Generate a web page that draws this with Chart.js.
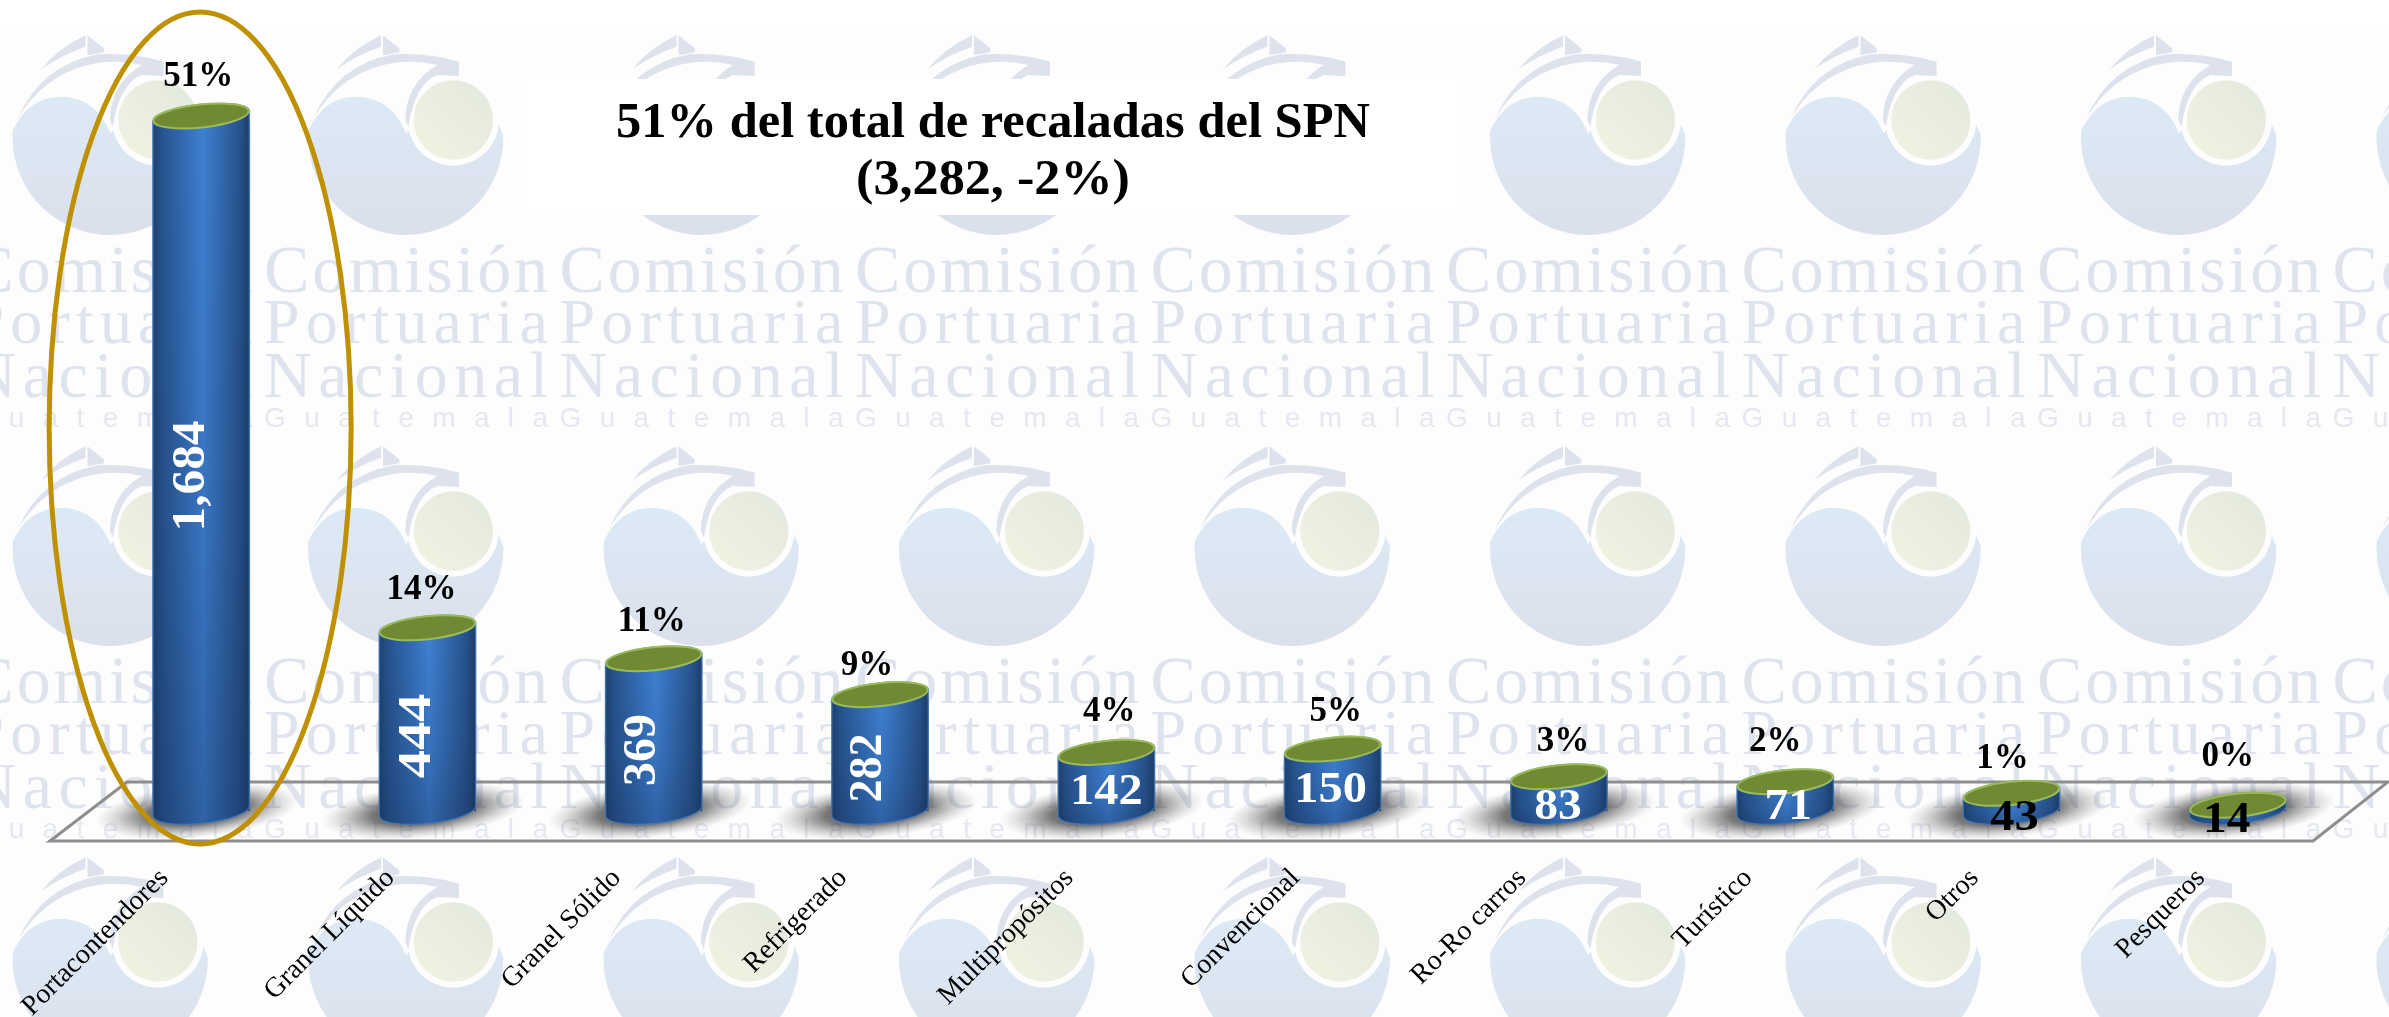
<!DOCTYPE html>
<html lang="es">
<head>
<meta charset="utf-8">
<title>Recaladas por tipo de buque</title>
<style>
html,body{margin:0;padding:0;background:#fff;width:2389px;height:1017px;overflow:hidden}
canvas{display:block;position:absolute;left:0;top:0}
</style>
<script src="https://cdn.jsdelivr.net/npm/chart.js@4/dist/chart.umd.min.js"></script>
</head>
<body>
<canvas id="c" width="2389" height="1017"></canvas>
<script>
// ---- data ----
const categories = ['Portacontendores','Granel Líquido','Granel Sólido','Refrigerado','Multipropósitos','Convencional','Ro-Ro carros','Turístico','Otros','Pesqueros'];
const values = [1684,444,369,282,142,150,83,71,43,14];
const shares = ['51%','14%','11%','9%','4%','5%','3%','2%','1%','0%'];
const titleLines = ['51% del total de recaladas del SPN','(3,282, -2%)'];
const watermarkLines = ['Comisión','Portuaria','Nacional'];
const watermarkFoot = 'Guatemala';

// ---- label styling (offsets from each bar, not data) ----
const shareDx = [-3,-6,-2,-13,3,3,4,-10,-9,-10];
const shareDy = [-39,-38,-37,-29,-40,-37,-35,-40,-34,-48];
const valueDx = [-9,-10,-11,-11,0,-2,-1,3,3,-11];
const valueDy = [-335,-75,-61,-43,-18,-20,-3,-3,8,10];
const valueRotated = [true,true,true,true,false,false,false,false,false,false];
const valueStretch = [1.05,1.2,1.02,0.98,1.1,1.1,1.08,1.08,1.1,1.08];
const valueColor = ['#fff','#fff','#fff','#fff','#fff','#fff','#fff','#fff','#000','#000'];

const SERIF = '"Liberation Serif", serif';
const TILT = -6 * Math.PI / 180, RY = 11.5;

function stretchedText(ctx, text, x, y, font, sx, rot, color) {
  ctx.save();
  ctx.translate(x, y);
  if (rot) ctx.rotate(rot);
  ctx.scale(sx, 1);
  ctx.font = font;
  ctx.fillStyle = color;
  ctx.fillText(text, 0, 0);
  ctx.restore();
}

function drawLogo(ctx, ox, oy) {
  // logo outline is sketched in units of 1/3 px
  ctx.save();
  ctx.translate(ox, oy);
  ctx.scale(1 / 3, 1 / 3);
  const blue = ctx.createLinearGradient(0, 230, 0, 645);
  blue.addColorStop(0, '#dceaf6');
  blue.addColorStop(1, '#dbe0eb');
  ctx.fillStyle = blue;
  ctx.beginPath();
  ctx.moveTo(88, 325);
  ctx.quadraticCurveTo(135, 230, 230, 230);
  ctx.bezierCurveTo(310, 232, 355, 280, 378, 340);
  ctx.arc(520, 300, 137, Math.PI * 0.93, Math.PI * 0.03, true);
  ctx.arc(377, 352, 293, -0.02, Math.PI * 1.02, false);
  ctx.closePath();
  ctx.fill();
  const green = ctx.createLinearGradient(630, 190, 420, 410);
  green.addColorStop(0, '#e4e9de');
  green.addColorStop(1, '#f0f3e1');
  ctx.fillStyle = green;
  ctx.beginPath();
  ctx.arc(520, 300, 119, 0, Math.PI * 2);
  ctx.fill();
  ctx.fillStyle = '#dde2ec';
  ctx.beginPath();
  ctx.moveTo(100, 295);
  ctx.quadraticCurveTo(170, 135, 340, 103);
  ctx.quadraticCurveTo(450, 98, 537, 125);
  ctx.lineTo(537, 168);
  ctx.lineTo(472, 165);
  ctx.quadraticCurveTo(405, 190, 385, 320);
  ctx.lineTo(376, 300);
  ctx.quadraticCurveTo(378, 190, 472, 135);
  ctx.quadraticCurveTo(390, 115, 300, 137);
  ctx.quadraticCurveTo(170, 175, 100, 295);
  ctx.closePath();
  ctx.fill();
  ctx.beginPath();
  ctx.moveTo(170, 148);
  ctx.quadraticCurveTo(220, 85, 303, 46);
  ctx.lineTo(303, 80);
  ctx.quadraticCurveTo(230, 105, 170, 148);
  ctx.closePath();
  ctx.fill();
  ctx.beginPath();
  ctx.moveTo(309, 46);
  ctx.lineTo(358, 85);
  ctx.lineTo(358, 97);
  ctx.lineTo(309, 106);
  ctx.closePath();
  ctx.fill();
  ctx.restore();
}

function spacedText(ctx, text, x, y, font, width, color) {
  ctx.save();
  ctx.font = font;
  const plain = ctx.measureText(text).width;
  ctx.letterSpacing = ((width - plain) / (text.length - 1)) + 'px';
  ctx.fillStyle = color;
  ctx.fillText(text, x, y);
  ctx.restore();
}

function drawWatermarkTile(ctx, ox, oy) {
  drawLogo(ctx, ox + 16, oy + 20);
  const baselines = [292, 343, 397];
  const sizes = [68, 64, 66];
  ctx.textAlign = 'left';
  ctx.textBaseline = 'alphabetic';
  watermarkLines.forEach((t, i) => {
    spacedText(ctx, t, ox, oy + baselines[i], sizes[i] + 'px ' + SERIF, 284, '#dfe3ed');
  });
  spacedText(ctx, watermarkFoot, ox, oy + 427, '28px "Liberation Sans", sans-serif', 284, '#e5e8ef');
}

function silhouette(ctx, x, top, base, rx) {
  ctx.beginPath();
  ctx.ellipse(x, top, rx, RY, TILT, Math.PI, 0, false);
  ctx.lineTo(x + rx * Math.cos(TILT), base + rx * Math.sin(TILT));
  ctx.ellipse(x, base, rx, RY + 1, TILT, 0, Math.PI, false);
  ctx.closePath();
}

function sideGradient(ctx, left, right) {
  const g = ctx.createLinearGradient(left, 0, right, 0);
  g.addColorStop(0, '#1d426f');
  g.addColorStop(0.1, '#27548f');
  g.addColorStop(0.52, '#3e80d2');
  g.addColorStop(0.9, '#27528b');
  g.addColorStop(1, '#1b3d68');
  return g;
}

const scenery = {
  id: 'scenery',
  beforeDraw(chart) {
    const ctx = chart.ctx, W = chart.width, H = chart.height;
    ctx.save();
    ctx.fillStyle = '#ffffff';
    ctx.fillRect(0, 0, W, H);
    ctx.fillStyle = '#fdfdfd';
    ctx.fillRect(0, 30, W, H - 30);
    for (let r = 0; r < 3; r++) {
      for (let k = -1; k < 8; k++) {
        drawWatermarkTile(ctx, 264 + k * 295.5, r * 411);
      }
    }
    ctx.fillStyle = '#ffffff';
    ctx.fillRect(527, 79, 931, 136);
    ctx.textAlign = 'left';
    ctx.textBaseline = 'alphabetic';
    const targets = [754, 274], bases = [137, 194];
    titleLines.forEach((t, i) => {
      const font = 'bold 51px ' + SERIF;
      ctx.font = font;
      const w = ctx.measureText(t).width;
      stretchedText(ctx, t, 993 - targets[i] / 2, bases[i], font, targets[i] / w, 0, '#000');
    });
    // floor of the chart
    ctx.strokeStyle = '#8e8e8e';
    ctx.lineWidth = 3;
    ctx.lineJoin = 'miter';
    ctx.beginPath();
    ctx.moveTo(50, 841);
    ctx.lineTo(127, 782);
    ctx.lineTo(2388, 782);
    ctx.lineTo(2313, 841);
    ctx.closePath();
    ctx.stroke();
    ctx.restore();
  },
  beforeDatasetsDraw(chart) {
    const ctx = chart.ctx;
    chart.getDatasetMeta(0).data.forEach(bar => {
      const rx = bar.width / 2, base = bar.base;
      ctx.save();
      ctx.translate(bar.x - 4, base);
      ctx.rotate(TILT);
      ctx.scale(102, 27);
      const g = ctx.createRadialGradient(0, 0, 0, 0, 0, 1);
      g.addColorStop(0, 'rgba(40,40,40,.85)');
      g.addColorStop(0.5, 'rgba(50,50,50,.66)');
      g.addColorStop(0.78, 'rgba(80,80,80,.25)');
      g.addColorStop(1, 'rgba(120,120,120,0)');
      ctx.fillStyle = g;
      ctx.beginPath();
      ctx.arc(0, 0, 1, 0, Math.PI * 2);
      ctx.fill();
      ctx.restore();
      ctx.save();
      silhouette(ctx, bar.x, bar.y, base, rx);
      ctx.fillStyle = sideGradient(ctx, bar.x - rx, bar.x + rx);
      ctx.fill();
      ctx.restore();
    });
  },
  beforeDatasetDraw(chart) {
    const ctx = chart.ctx;
    ctx.save();
    ctx.beginPath();
    chart.getDatasetMeta(0).data.forEach(bar => {
      const rx = bar.width / 2;
      ctx.rect(bar.x - rx, bar.y + rx * Math.sin(-TILT), bar.width, bar.base - bar.y);
    });
    ctx.clip();
  },
  afterDatasetDraw(chart) {
    chart.ctx.restore();
  },
  afterDatasetsDraw(chart) {
    const ctx = chart.ctx;
    const meta = chart.getDatasetMeta(0).data;
    meta.forEach(bar => {
      const rx = bar.width / 2, base = bar.base;
      ctx.save();
      silhouette(ctx, bar.x, bar.y, base, rx);
      ctx.save();
      ctx.clip();
      const shade = ctx.createLinearGradient(0, bar.y, 0, base + 13);
      shade.addColorStop(0, 'rgba(18,40,80,0)');
      shade.addColorStop(0.6, 'rgba(18,40,80,.14)');
      shade.addColorStop(1, 'rgba(18,40,80,.34)');
      ctx.fillStyle = shade;
      ctx.fillRect(bar.x - rx - 1, bar.y - 14, bar.width + 2, base - bar.y + 30);
      ctx.restore();
      silhouette(ctx, bar.x, bar.y, base, rx);
      ctx.strokeStyle = 'rgba(70,120,185,.8)';
      ctx.lineWidth = 1.5;
      ctx.stroke();
      ctx.beginPath();
      ctx.ellipse(bar.x, bar.y, rx - 0.5, RY, TILT, 0, Math.PI * 2);
      ctx.fillStyle = '#6f8a33';
      ctx.fill();
      ctx.strokeStyle = '#9bbb59';
      ctx.lineWidth = 2;
      ctx.stroke();
      ctx.restore();
    });
    ctx.save();
    ctx.textAlign = 'center';
    ctx.textBaseline = 'middle';
    meta.forEach((bar, i) => {
      stretchedText(ctx, shares[i], bar.x + shareDx[i], bar.y + shareDy[i], 'bold 35px ' + SERIF, 1, 0, '#000');
      const txt = values[i].toLocaleString('en-US');
      const font = (valueRotated[i] ? 'bold 47px ' : 'bold 44px ') + SERIF;
      stretchedText(ctx, txt, bar.x + valueDx[i], bar.base + valueDy[i], font, valueStretch[i], valueRotated[i] ? -Math.PI / 2 : 0, valueColor[i]);
    });
    // highlight around the leading category
    ctx.strokeStyle = '#bf9000';
    ctx.lineWidth = 5;
    ctx.beginPath();
    ctx.ellipse(meta[0].x - 1, 428, 151, 416, 0, 0, Math.PI * 2);
    ctx.stroke();
    ctx.restore();
  }
};

new Chart(document.getElementById('c').getContext('2d'), {
  type: 'bar',
  data: {
    labels: categories,
    datasets: [{
      data: values,
      barThickness: 97,
      borderWidth: 0,
      backgroundColor(c) {
        const px = c.chart.scales.x ? c.chart.scales.x.getPixelForValue(c.dataIndex) : NaN;
        if (!isFinite(px)) return '#3e80d2';
        return sideGradient(c.chart.ctx, px - 48.5, px + 48.5);
      }
    }]
  },
  options: {
    responsive: false,
    animation: false,
    devicePixelRatio: 1,
    layout: { padding: { left: 88, right: 38, top: 0, bottom: 0 } },
    plugins: { legend: { display: false }, tooltip: { enabled: false }, title: { display: false } },
    scales: {
      x: {
        offset: true,
        grid: { display: false, drawTicks: false },
        border: { display: false },
        afterFit(s) { s.height = 206; s.paddingLeft = 0; s.paddingRight = 0; },
        ticks: {
          autoSkip: false,
          maxRotation: 45,
          minRotation: 45,
          padding: 51,
          labelOffset: -37,
          color: '#000',
          font: { family: 'Liberation Serif', size: 28 }
        }
      },
      y: { display: false, min: 0, max: 1965 }
    }
  },
  plugins: [scenery]
});
</script>
</body>
</html>
